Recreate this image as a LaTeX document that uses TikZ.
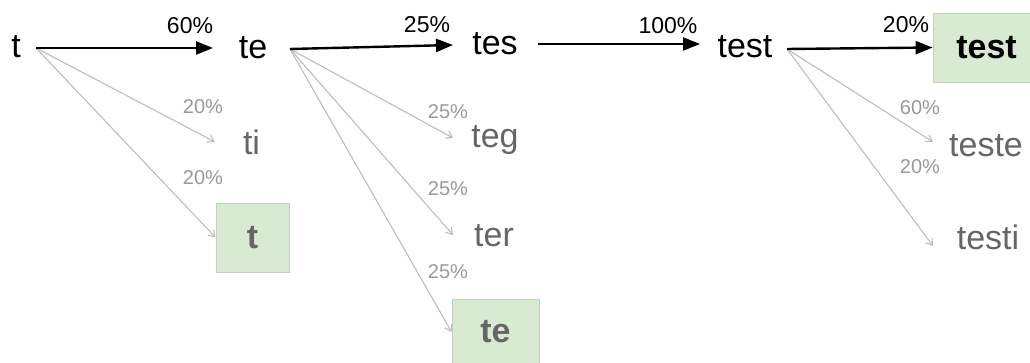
\documentclass[tikz,border=0pt]{standalone}
\usepackage{fontspec}
\setmainfont{Liberation Sans}
\usetikzlibrary{arrows.meta}
\definecolor{boxgreen}{HTML}{D9EAD3}
\definecolor{boxedge}{HTML}{C8CCC8}
\definecolor{wordgray}{HTML}{666666}
\definecolor{labelgray}{HTML}{999999}
\definecolor{arrowgray}{HTML}{BDBDBD}
\begin{document}
\begin{tikzpicture}[x=1pt,y=-1pt,
  word/.style={inner sep=0pt, anchor=base, font=\fontsize{34}{40}\selectfont},
  blackword/.style={word, text=black},
  grayword/.style={word, text=wordgray},
  hit/.style={draw=boxedge, fill=boxgreen, line width=0.8pt, inner sep=0pt,
    font=\fontsize{34}{40}\selectfont\bfseries},
  mainarrow/.style={draw=black, line width=2.4pt, -{Triangle[length=17pt,width=13pt]}},
  sidearrow/.style={draw=arrowgray, line width=1.1pt, -{Straight Barb[length=6pt,width=8pt]}},
  mainlabel/.style={font=\fontsize{23}{26}\selectfont, inner sep=0pt, text=black},
  sidelabel/.style={font=\fontsize{20}{24}\selectfont, text=labelgray, inner sep=0pt},
]
\useasboundingbox (0,0) rectangle (1030,363);

% main path words
\node[blackword] (t) at (16,58) {t};
\node[blackword] (te) at (253,59) {te};
\node[blackword] (tes) at (495,55) {tes};
\node[blackword] (test) at (745,58) {test};

% alternatives
\node[grayword] (ti) at (251.5,155) {ti};
\node[grayword] (teg) at (495,148) {teg};
\node[grayword] (ter) at (494,247) {ter};
\node[grayword] (teste) at (986,157) {teste};
\node[grayword] (testi) at (988,250) {testi};

% highlighted boxes
\node[hit, text=wordgray, minimum width=73pt, minimum height=69pt] (tbox) at (252.5,237.5) {t};
\node[hit, text=wordgray, minimum width=87pt, minimum height=66pt] (tebox) at (495.5,332) {te};
\node[hit, text=black, minimum width=107pt, minimum height=69pt] (testbox) at (986.5,47.5) {test};

% ports
\coordinate (tO) at (36,48);
\coordinate (teO) at (290,49);
\coordinate (tesO) at (538,44);
\coordinate (testO) at (787,49);
\coordinate (teI) at (213,48);
\coordinate (tesI) at (453,45);
\coordinate (testI) at (700,44);
\coordinate (tiI) at (215,142);
\coordinate (tegI) at (453,138);
\coordinate (terI) at (453,235);
\coordinate (testeI) at (933,142);
\coordinate (testiI) at (933,246);

% side arrows
\draw[sidearrow] (tO) -- (tiI);
\draw[sidearrow] (tO) -- (tbox.west);
\draw[sidearrow] (teO) -- (tegI);
\draw[sidearrow] (teO) -- (terI);
\draw[sidearrow] (teO) -- (tebox.west);
\draw[sidearrow] (testO) -- (testeI);
\draw[sidearrow] (testO) -- (testiI);

% main arrows
\draw[mainarrow] (tO) -- (teI);
\draw[mainarrow] (teO) -- (tesI);
\draw[mainarrow] (tesO) -- (testI);
\draw[mainarrow] (testO) -- (testbox.west);

% labels
\node[mainlabel] (l1) at (190,26) {60\%};
\node[mainlabel] (l2) at (427,25) {25\%};
\node[mainlabel] (l3) at (668,26) {100\%};
\node[mainlabel] (l4) at (906,25) {20\%};

\node[sidelabel] (s1) at (203,107) {20\%};
\node[sidelabel] (s2) at (203,178) {20\%};
\node[sidelabel] (s3) at (448,112) {25\%};
\node[sidelabel] (s4) at (448,189) {25\%};
\node[sidelabel] (s5) at (448,272) {25\%};
\node[sidelabel] (s6) at (920,108) {60\%};
\node[sidelabel] (s7) at (920,167) {20\%};
\end{tikzpicture}
\end{document}
